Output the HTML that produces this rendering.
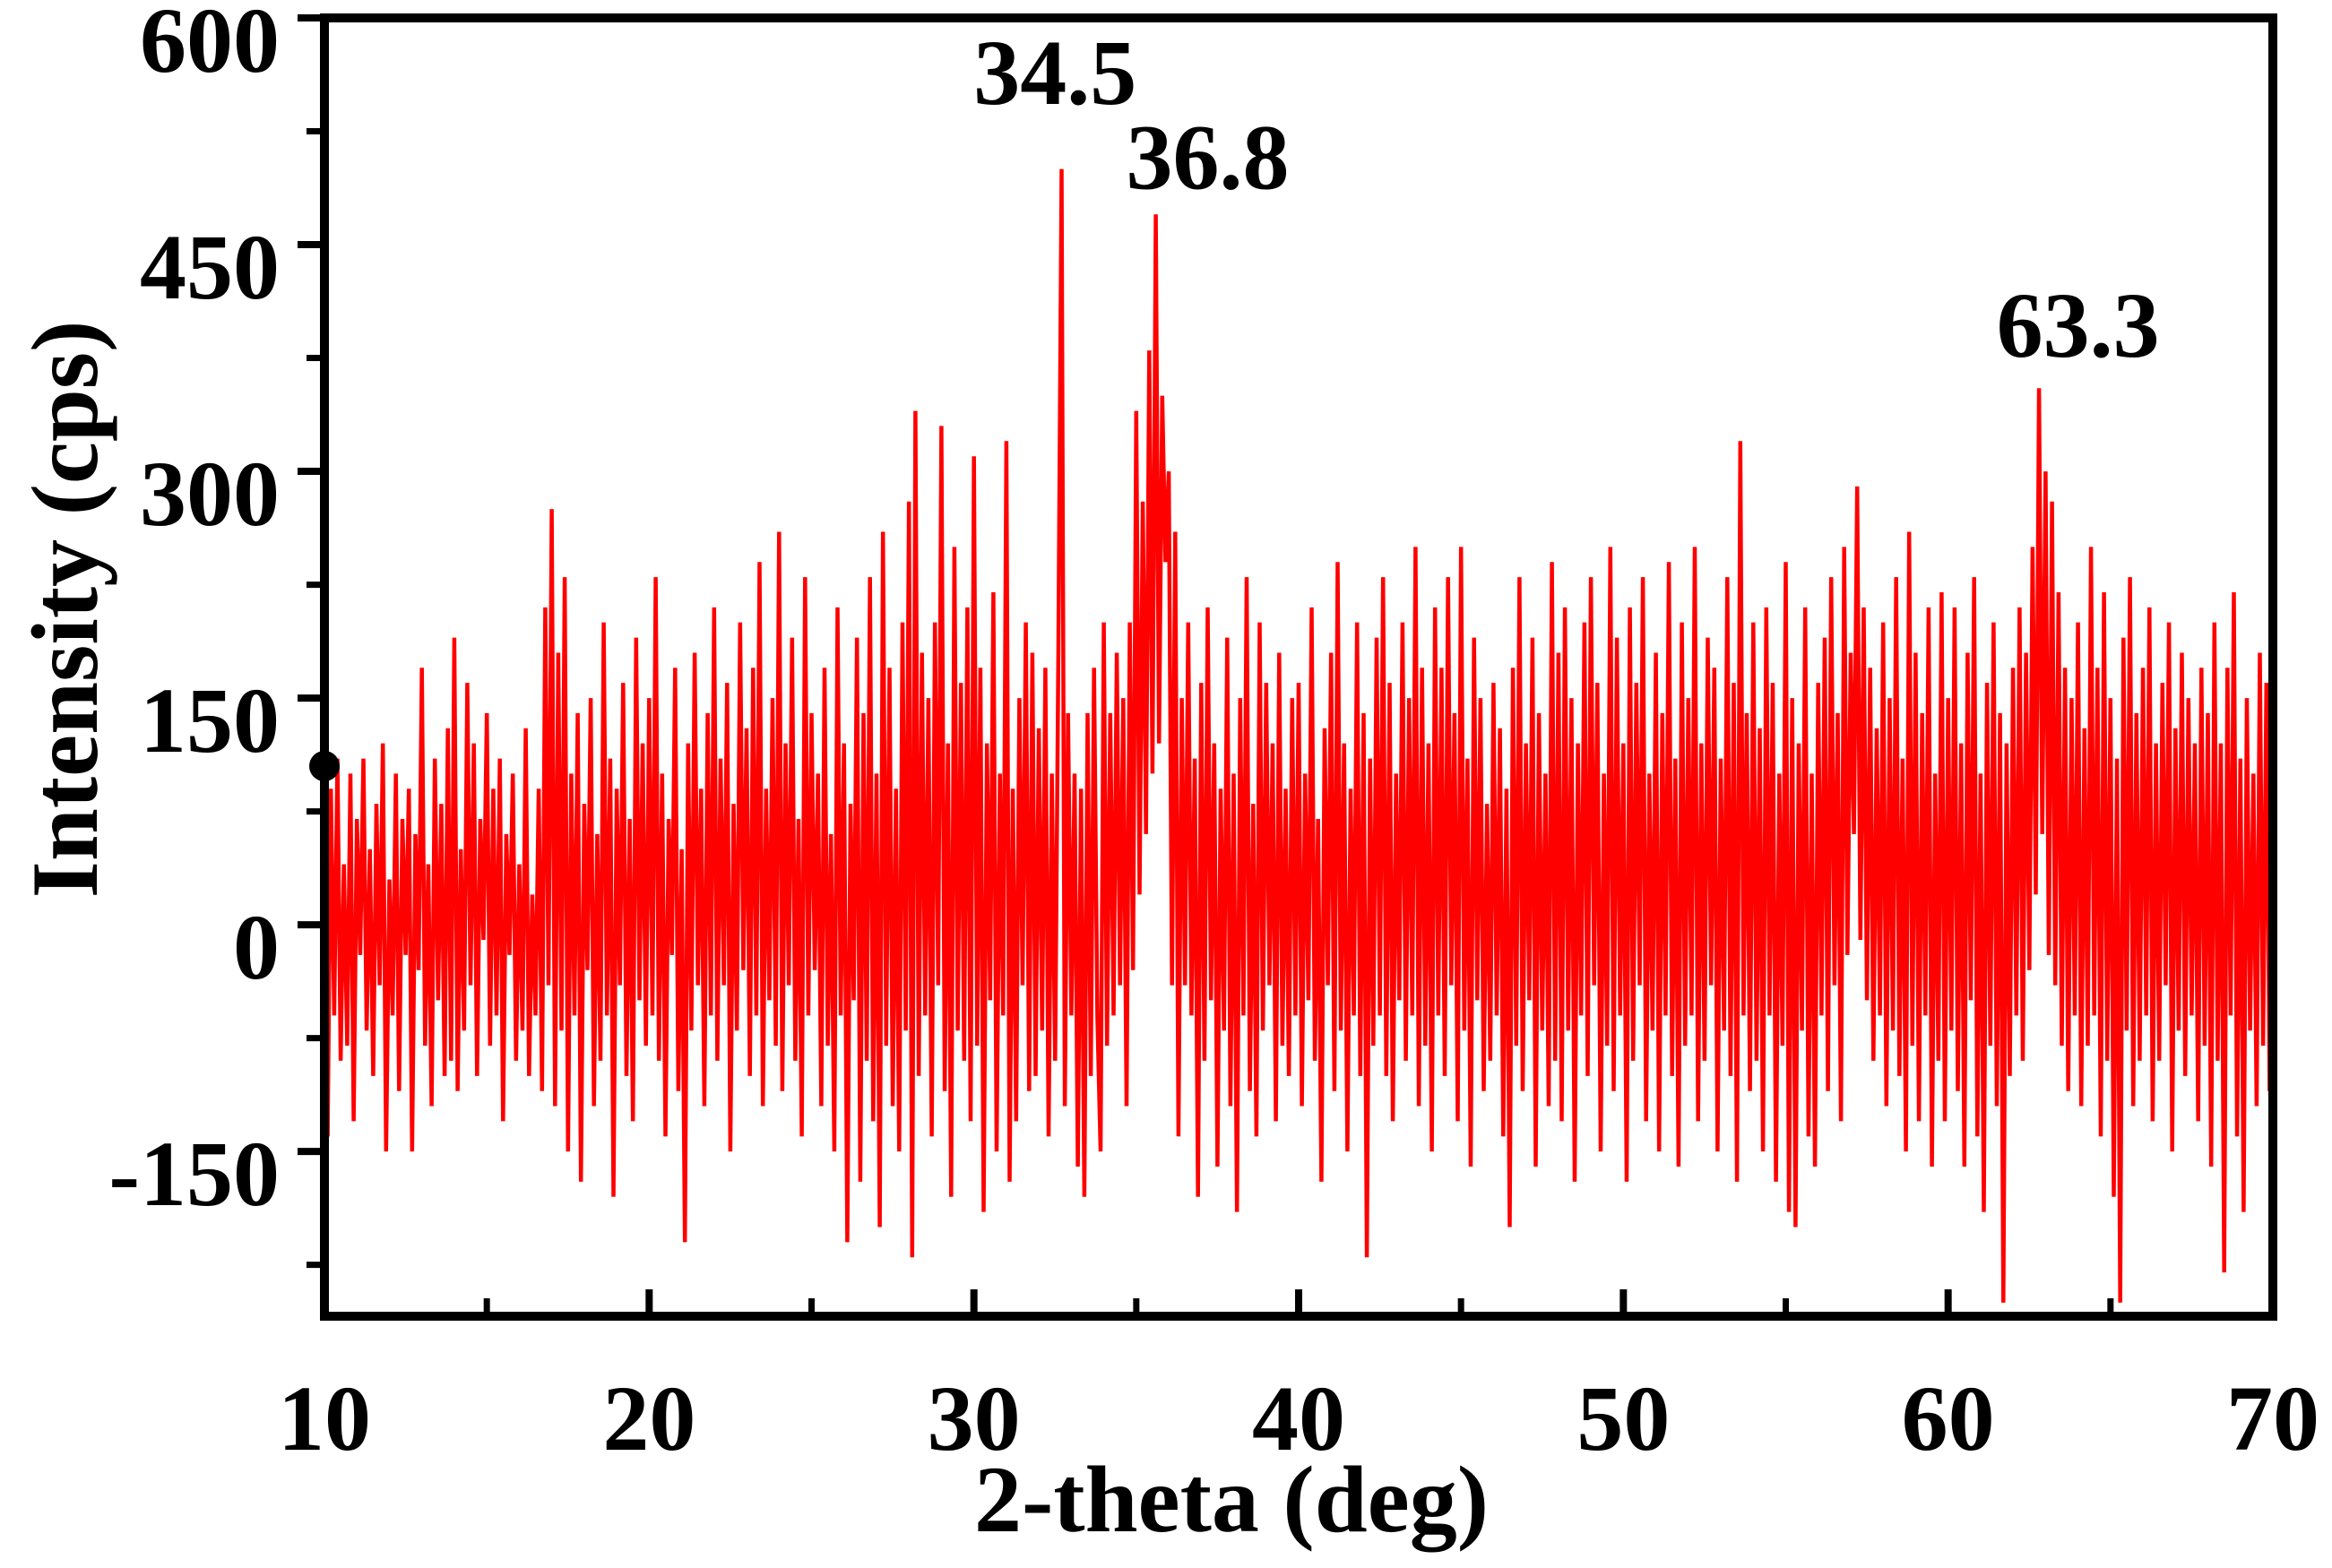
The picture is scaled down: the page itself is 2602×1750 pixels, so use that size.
<!DOCTYPE html>
<html><head><meta charset="utf-8"><style>
html,body{margin:0;padding:0;background:#fff}
svg{display:block}
text{font-family:"Liberation Serif",serif;font-weight:bold;fill:#000}
</style></head><body>
<svg id="chart" width="2602" height="1750" viewBox="0 0 2602 1750" xmlns="http://www.w3.org/2000/svg">
<g id="plot"></g>
</svg>
<script>
const xStart = 10, xStep = 0.1;
const intensity = [
60,-140,90,-60,110,-90,40,-80,100,-130,70,-20,110,-70,50,-100,80,-40,120,-150,
30,-60,100,-110,70,-20,90,-150,60,-30,170,-80,40,-120,110,-50,80,-100,130,-90,
190,-110,50,-70,160,-40,120,-100,70,-10,140,-80,90,-60,110,-130,60,-20,100,-90,
40,-70,130,-100,20,-60,90,-110,210,-40,275,-120,180,-70,230,-150,100,-60,140,-170,
80,-30,150,-120,60,-90,200,-60,110,-180,90,-40,160,-100,70,-130,190,-50,120,-80,
150,-60,230,-90,100,-140,70,-20,170,-110,50,-210,120,-70,180,-40,90,-120,140,-60,
210,-90,110,-40,160,-150,80,-70,200,-30,130,-100,170,-60,240,-120,90,-50,150,-80,
260,-110,120,-40,190,-90,70,-140,230,-60,140,-30,100,-120,170,-80,60,-150,210,-60,
120,-210,80,-50,190,-170,140,-90,230,-130,100,-200,260,-80,170,-120,90,-150,200,-70,
280,-220,340,-100,180,-60,150,-140,200,-40,330,-110,120,-180,250,-70,160,-90,210,-130,
310,-80,170,-190,120,-50,220,-150,100,-60,320,-170,90,-130,150,-40,200,-110,180,-100,
130,-70,170,-140,100,-90,180,500,-120,140,-60,100,-160,90,-180,140,-100,170,-60,-150,
200,-80,140,-60,180,-40,150,-120,200,-30,340,20,280,60,380,100,470,120,350,240,
300,-40,260,-140,150,-40,200,-60,110,-180,160,-90,210,-50,120,-160,90,-70,190,-120,
100,-190,150,-60,230,-110,80,-140,200,-70,160,-40,120,-130,180,-80,90,-100,150,-60,
160,-120,100,-50,210,-90,70,-170,130,-40,180,-110,240,-70,120,-150,90,-60,200,-100,
140,-220,110,-80,190,-60,230,-100,160,-130,100,-50,200,-90,150,-60,250,-120,170,-80,
120,-150,210,-60,170,-100,230,-40,140,-130,250,-70,110,-160,190,-50,150,-110,80,-90,
160,-60,130,-140,90,-200,170,-80,230,-110,120,-50,190,-160,140,-70,100,-120,240,-90,
180,-130,210,-70,150,-170,120,-60,200,-100,230,-40,160,-150,100,-80,250,-110,190,-60,
120,-170,210,-90,160,-40,230,-130,100,-70,180,-150,140,-60,240,-100,110,-160,200,-80,
150,-60,250,-130,120,-90,190,-40,170,-150,110,-70,230,-100,160,-170,320,-60,140,-110,
200,-90,130,-150,210,-60,160,-170,100,-80,240,-190,150,-200,120,-70,210,-140,100,-160,
160,-60,190,-110,230,-40,140,-130,250,-20,180,60,290,-10,210,-50,170,-90,130,-60,
200,-120,150,-70,230,-100,110,-150,260,-80,180,-130,140,-60,210,-160,100,-90,220,-130,
150,-70,210,-110,120,-160,180,-50,230,-140,100,-190,160,-80,200,-120,140,-250,120,-100,
170,-60,210,-90,180,-30,250,20,355,60,300,-20,280,-40,220,-80,170,-110,150,-60,
200,-120,130,-80,250,-60,170,-140,220,-90,150,-180,110,-250,190,-70,230,-120,140,-90,
170,-60,210,-130,120,-90,160,-40,200,-150,130,-70,180,-100,150,-60,120,-130,170,-80,
140,-160,200,-90,120,-230,170,-60,220,-140,110,-190,150,-70,100,-120,180,-80,160,-110,
180
];
const xTicks = [10,20,30,40,50,60,70];
const yTicks = [-150,0,150,300,450,600];
const peakLabels = ["34.5","36.8","63.3"];
const peakLabelX = [32.5,37.2,64.0];
const peakLabelY = [543,487,376];

const L=362,R=2536,T=20,B=1469;
const xMin=10,xMax=70,yMin=-259,yMax=600;
const sx=v=>L+(v-xMin)/(xMax-xMin)*(R-L);
const sy=v=>B-(v-yMin)/(yMax-yMin)*(B-T);
const NS="http://www.w3.org/2000/svg";
const g=document.getElementById('plot');
function mk(t,a){const e=document.createElementNS(NS,t);for(const k in a)e.setAttribute(k,a[k]);g.appendChild(e);return e;}

let d="";
intensity.forEach((v,i)=>{d+=(i?"L":"M")+sx(xStart+i*xStep).toFixed(1)+","+sy(Math.max(v,yMin)).toFixed(1);});
const line=mk('path',{d:d,fill:'none',stroke:'#ff0000','stroke-width':4.5,'stroke-linejoin':'bevel'});



const frame=mk('rect',{x:L,y:T,width:R-L,height:B-T,fill:'none',stroke:'#000','stroke-width':10});



xTicks.forEach(v=>{
 const t=mk('line',{x1:sx(v),x2:sx(v),y1:B,y2:B-30,stroke:'#000','stroke-width':8});
 
 
 const lb=mk('text',{x:sx(v),y:1618,'font-size':104,'text-anchor':'middle'});
 lb.textContent=v;
 
 
 if(v<xMax){const m=mk('line',{x1:sx(v+5),x2:sx(v+5),y1:B,y2:B-20,stroke:'#000','stroke-width':7});
 
 }
});
yTicks.forEach(v=>{
 const t=mk('line',{x1:L,x2:L-30,y1:sy(v),y2:sy(v),stroke:'#000','stroke-width':8});
 
 
 const lb=mk('text',{x:L-50,y:sy(v)+60,'font-size':104,'text-anchor':'end'});
 lb.textContent=v;
 
 
 const mv=v-75; if(mv>yMin){const m=mk('line',{x1:L,x2:L-20,y1:sy(mv),y2:sy(mv),stroke:'#000','stroke-width':7});
 
 }
});
const dot=mk('circle',{cx:L,cy:sy(105),r:17,fill:'#000'});



peakLabels.forEach((s,i)=>{
 const lb=mk('text',{x:sx(peakLabelX[i]),y:sy(peakLabelY[i]),'font-size':104,'text-anchor':'middle'});
 lb.textContent=s;
 
 
});
const xt=mk('text',{x:1374,y:1709,'font-size':106,'text-anchor':'middle'});
xt.textContent="2-theta (deg)";


const yt=mk('text',{x:0,y:0,'font-size':106,'text-anchor':'middle',transform:'translate(108,680) rotate(-90)'});
yt.textContent="Intensity (cps)";


</script>
</body></html>
